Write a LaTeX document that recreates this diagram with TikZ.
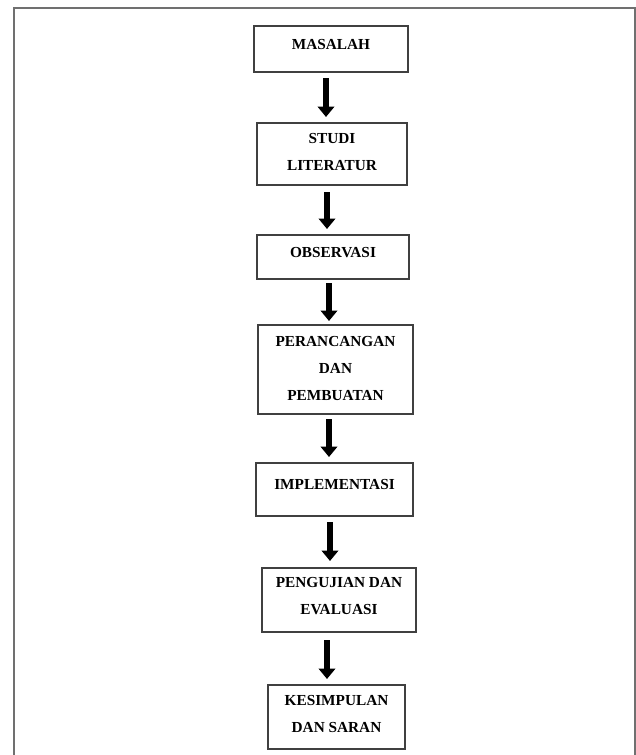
\documentclass[tikz,border=0pt]{standalone}
\usepackage{fontspec}
\setmainfont{Liberation Serif}
\usetikzlibrary{arrows.meta}
\definecolor{framegray}{HTML}{707070}
\definecolor{boxgray}{HTML}{404040}
\tikzset{
  stagebox/.style={draw=boxgray, line width=1.2pt, fill=white, inner sep=0pt, outer sep=0pt},
  stagelabel/.style={font=\fontsize{15.3pt}{27pt}\selectfont\bfseries, align=center, inner sep=0pt, text=black},
  flowarrow/.style={line width=6.5pt, draw=black, -{Triangle[width=16.5pt,length=10.5pt]}},
}
\begin{document}
\begin{tikzpicture}[x=1pt,y=-1pt]
\useasboundingbox (0,0) rectangle (636,755);
\clip (0,0) rectangle (636,755);
\fill[white] (0,0) rectangle (636,755);
% outer frame
\draw[framegray, line width=2pt] (14,765) -- (14,8) -- (635,8) -- (635,765);

% boxes
\node[stagebox, minimum width=154pt, minimum height=46pt] (b1) at (331,49) {};
\node[stagebox, minimum width=150pt, minimum height=62pt] (b2) at (332,154) {};
\node[stagebox, minimum width=152pt, minimum height=44pt] (b3) at (333,257) {};
\node[stagebox, minimum width=155pt, minimum height=89pt] (b4) at (335.5,369.5) {};
\node[stagebox, minimum width=157pt, minimum height=53pt] (b5) at (334.5,489.5) {};
\node[stagebox, minimum width=154pt, minimum height=64pt] (b6) at (339,600) {};
\node[stagebox, minimum width=137pt, minimum height=64pt] (b7) at (336.5,717) {};

% labels
\node[stagelabel] (t1) at ([yshift=4pt]b1.center) {MASALAH};
\node[stagelabel] (t2) at ([yshift=2pt]b2.center) {STUDI\\LITERATUR};
\node[stagelabel] (t3) at ([yshift=4pt]b3.center) {OBSERVASI};
\node[stagelabel] (t4) at ([yshift=1.5pt]b4.center) {PERANCANGAN\\DAN\\PEMBUATAN};
\node[stagelabel] (t5) at ([yshift=5pt]b5.center) {IMPLEMENTASI};
\node[stagelabel] (t6) at ([yshift=4pt]b6.center) {PENGUJIAN DAN\\EVALUASI};
\node[stagelabel] (t7) at ([yshift=3.5pt]b7.center) {KESIMPULAN\\DAN SARAN};

% arrow columns
\coordinate (x1) at (326,0);
\coordinate (x2) at (327,0);
\coordinate (x3) at (329,0);
\coordinate (x4) at (329,0);
\coordinate (x5) at (330,0);
\coordinate (x6) at (327,0);

\draw[flowarrow, shorten <=6pt, shorten >=6pt] (b1.south -| x1) -- (b2.north -| x1);
\draw[flowarrow, shorten <=7pt, shorten >=6pt] (b2.south -| x2) -- (b3.north -| x2);
\draw[flowarrow, shorten <=4pt, shorten >=4pt] (b3.south -| x3) -- (b4.north -| x3);
\draw[flowarrow, shorten <=5pt, shorten >=6pt] (b4.south -| x4) -- (b5.north -| x4);
\draw[flowarrow, shorten <=6pt, shorten >=7pt] (b5.south -| x5) -- (b6.north -| x5);
\draw[flowarrow, shorten <=8pt, shorten >=6pt] (b6.south -| x6) -- (b7.north -| x6);
\end{tikzpicture}
\end{document}
